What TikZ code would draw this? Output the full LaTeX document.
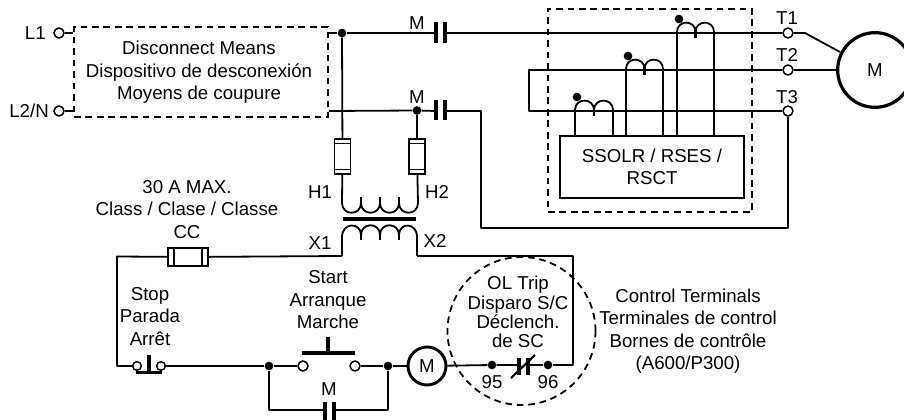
\documentclass[tikz,border=0pt]{standalone}
\usepackage{fontspec}
\setmainfont{Liberation Sans}
\tikzset{
  x=0.75pt,y=-0.75pt,
  wire/.style={line width=1.35pt,line join=round},
  hv/.style={line width=2.6pt},
  lbl/.style={font=\fontsize{14}{16.9}\selectfont,inner sep=0pt,align=center},
  term/.style={circle,draw,fill=white,line width=1.1pt,minimum size=7.5pt,inner sep=0pt},
  junct/.style={circle,fill=black,minimum size=6.5pt,inner sep=0pt},
  dbox/.style={draw,line width=1.35pt,dash pattern=on 5pt off 3.6pt,inner sep=0pt},
  sbox/.style={draw,line width=1.35pt,inner sep=0pt,fill=white},
  fuse/.style={draw,line width=1.35pt,fill=white,inner sep=0pt}
}
\newcommand{\ctcoil}[3]{% x-left, line y, x-right
  \pgfmathsetmacro{\cm}{(#1+#3)/2}
  \draw[wire] (#1,#2-1) .. controls (#1,#2-13.5) and (\cm,#2-13.5) .. (\cm,#2-1)
     .. controls (\cm,#2-13.5) and (#3,#2-13.5) .. (#3,#2-1);
  \draw[wire,line width=1.8pt] (\cm,#2-3) -- (\cm,#2+5);
}
\begin{document}
\begin{tikzpicture}
\useasboundingbox (0,0) rectangle (904,420);
% terminals
\node[term] (L1) at (59,33) {};
\node[term] (L2) at (59,111) {};
\node[lbl,anchor=east] (tL1) at (46,33) {L1};
\node[lbl,anchor=east] (tL2) at (49,111) {L2/N};
\node[dbox,minimum width=190.5pt,minimum height=67.5pt] (disc) at (201,72) {};
\node[lbl] (tDisc) at (199,72.5) {Disconnect Means\\Dispositivo de desconexión\\Moyens de coupure};
\coordinate (dL1) at (disc.west|-L1);
\coordinate (dL2) at (disc.west|-L2);
\coordinate (dR1) at (disc.east|-L1);
\coordinate (dR2) at (disc.east|-L2);
\draw[wire] (L1) -- (dL1);
\draw[wire] (L2) -- (dL2);
% junctions and contacts top
\node[junct] (j1) at (342,33) {};
\node[junct] (j2) at (417,110.5) {};
\coordinate (cA1) at (436,33); \coordinate (cA2) at (446,33);
\coordinate (cB1) at (436,111); \coordinate (cB2) at (446,111);
\draw[wire] (dR1) -- (j1) -- (cA1);
\draw[wire] (dR2) -- (j2) -- (cB1);
\draw[hv] (436,22) -- (436,43); \draw[hv] (445,22) -- (445,43);
\draw[hv] (436,100) -- (436,120); \draw[hv] (445,100) -- (445,120);
\node[lbl] (tMa) at (417,23) {M};
\node[lbl] (tMb) at (417,97) {M};
% terminals right
\node[term] (T1) at (788,33) {};
\node[term] (T2) at (788,70) {};
\node[term] (T3) at (788,111) {};
\node[lbl] (tT1) at (787,18) {T1};
\node[lbl] (tT2) at (787,55) {T2};
\node[lbl] (tT3) at (787,97) {T3};
\node[draw,circle,line width=2.4pt,minimum size=56pt,inner sep=0pt,lbl] (mot) at (875,70) {M};
\coordinate (t1b) at (805,33);
\draw[wire] (cA2) -- (T1) -- (t1b) -- (840,52);
\draw[wire] (T2) -- (mot.west);
\coordinate (loopT) at (529,70);
\coordinate (loopB) at (529,111);
\draw[wire] (T2) -- (loopT) -- (loopB) -- (T3);
\coordinate (r1) at (481,111);
\coordinate (r2) at (481,228);
\coordinate (r3) at (788,228);
\draw[wire] (cB2) -- (r1) -- (r2) -- (r3) -- (T3);
% SSOLR
\node[dbox,minimum width=153pt,minimum height=152.25pt] (ssd) at (650,110.5) {};
\node[sbox,minimum width=138pt,minimum height=46.5pt,lbl] (ssol) at (652,167) {SSOLR / RSES /\\RSCT};
\foreach \xa/\xb/\yl in {575/613/111,626/663/70,677/714/33}{
  \draw[wire] (\xa,136) -- (\xa,\yl-1);
  \draw[wire] (\xb,136) -- (\xb,\yl-1);
  \ctcoil{\xa}{\yl}{\xb}
  \node[junct] at (\xa+2,\yl-14) {};
}
% fuses
\tikzset{fv/.style={fuse,minimum width=12pt,minimum height=26.5pt,
  path picture={\draw[line width=1.1pt] ([yshift=-3.5pt]path picture bounding box.north west) -- ([yshift=-3.5pt]path picture bounding box.north east);
  \draw[line width=1.1pt] ([yshift=3.5pt]path picture bounding box.south west) -- ([yshift=3.5pt]path picture bounding box.south east);}}}
\node[fv] (f1) at (342.5,156.5) {};
\node[fv] (f2) at (417,156.5) {};
\draw[wire] (j1) -- (f1);
\draw[wire] (j2) -- (f2);
\node[lbl] (tH1) at (320,192) {H1};
\node[lbl] (tH2) at (437,192) {H2};
% transformer
\coordinate (p1) at (342,203); \coordinate (p2) at (418,203);
\draw[wire] (f1) -- (p1); \draw[wire] (f2) -- (p2);
\draw[wire] (342,203) .. controls (342,216) and (361,216) .. (361,203)
  .. controls (361,216) and (380,216) .. (380,203)
  .. controls (380,216) and (399,216) .. (399,203)
  .. controls (399,216) and (418,216) .. (418,203);
\foreach \xx in {361,380,399}{\draw[wire,line width=1.8pt] (\xx,197.5) -- (\xx,205);}
\draw[line width=3pt] (343,219) -- (416,219);
\draw[wire] (342,237) .. controls (342,222) and (361,222) .. (361,235)
  .. controls (361,222) and (380,222) .. (380,235)
  .. controls (380,222) and (399,222) .. (399,235)
  .. controls (399,222) and (417,222) .. (417,237);
\foreach \xx in {361,380,399}{\draw[wire,line width=1.8pt] (\xx,233) -- (\xx,240.5);}
\coordinate (x1) at (342,256); \coordinate (x2) at (417,256);
\draw[wire] (342,237) -- (x1); \draw[wire] (417,237) -- (x2);
\node[lbl] (tX1) at (320,243) {X1};
\node[lbl] (tX2) at (435,241) {X2};
% class fuse
\node[lbl] (tCl) at (187,209.5) {30 A MAX.\\Class / Clase / Classe\\CC};
\node[fuse,minimum width=30pt,minimum height=13.5pt,
  path picture={\draw[line width=1.1pt] ([xshift=4.5pt]path picture bounding box.north west) -- ([xshift=4.5pt]path picture bounding box.south west);
  \draw[line width=1.1pt] ([xshift=-4.5pt]path picture bounding box.north east) -- ([xshift=-4.5pt]path picture bounding box.south east);}] (fc) at (188,257) {};
\coordinate (lt) at (117,256.5);
\coordinate (lb) at (117,366);
\node[term,minimum size=6.5pt] (s1) at (137,366) {};
\node[term,minimum size=6.5pt] (s2) at (161,366) {};
\draw[wire] (x1) -- (fc) -- (lt) -- (lb) -- (s1);
\draw[hv] (149,355) -- (149,372);
\draw[hv] (136,372.5) -- (162,372.5);
\node[lbl] (tStop) at (150,316.5) {Stop\\Parada\\Arrêt};
% start
\node[junct] (j3) at (269,366) {};
\node[junct] (j4) at (388,366) {};
\node[term] (st1) at (303,366) {};
\node[term] (st2) at (355,366) {};
\draw[wire] (s2) -- (j3) -- (st1);
\draw[wire] (st2) -- (j4);
\draw[hv] (302,353) -- (355,353);
\draw[hv] (328,337) -- (328,353);
\node[lbl] (tStart) at (328,300) {Start\\Arranque\\Marche};
\node[draw,circle,line width=2.2pt,minimum size=28.5pt,inner sep=0pt,lbl] (rel) at (427,366) {M};
\draw[wire] (j4) -- (rel);
% aux contact
\coordinate (a1) at (269,410); \coordinate (a2) at (325,410);
\coordinate (a3) at (334,410); \coordinate (a4) at (388,410);
\draw[wire] (j3) -- (a1) -- (a2);
\draw[wire] (a3) -- (a4) -- (j4);
\draw[hv] (325,402) -- (325,421); \draw[hv] (334,402) -- (334,421);
\node[lbl] (tMc) at (329,389) {M};
% OL
\node[junct] (d95) at (492,365) {};
\node[junct] (d96) at (548,365) {};
\coordinate (nc1) at (519,365); \coordinate (nc2) at (528,365);
\coordinate (o1) at (573,365); \coordinate (o2) at (573,256);
\draw[wire] (rel) -- (d95) -- (nc1);
\draw[wire] (nc2) -- (d96) -- (o1) -- (o2) -- (x2);
\draw[hv] (519,358) -- (519,375); \draw[hv] (528,358) -- (528,375);
\draw[line width=1.6pt] (511,378) -- (535,355);
\node[lbl] (t95) at (492,382) {95};
\node[lbl] (t96) at (548,382) {96};
\node[dbox,circle,minimum size=111pt] (ol) at (521.5,331) {};
\node[lbl,font=\fontsize{14}{14.4}\selectfont] (tOL) at (518,312) {OL Trip\\Disparo S/C\\Déclench.\\de SC};
\node[lbl] (tCT) at (688,331) {Control Terminals\\Terminales de control\\Bornes de contrôle\\(A600/P300)};
\end{tikzpicture}
\end{document}
